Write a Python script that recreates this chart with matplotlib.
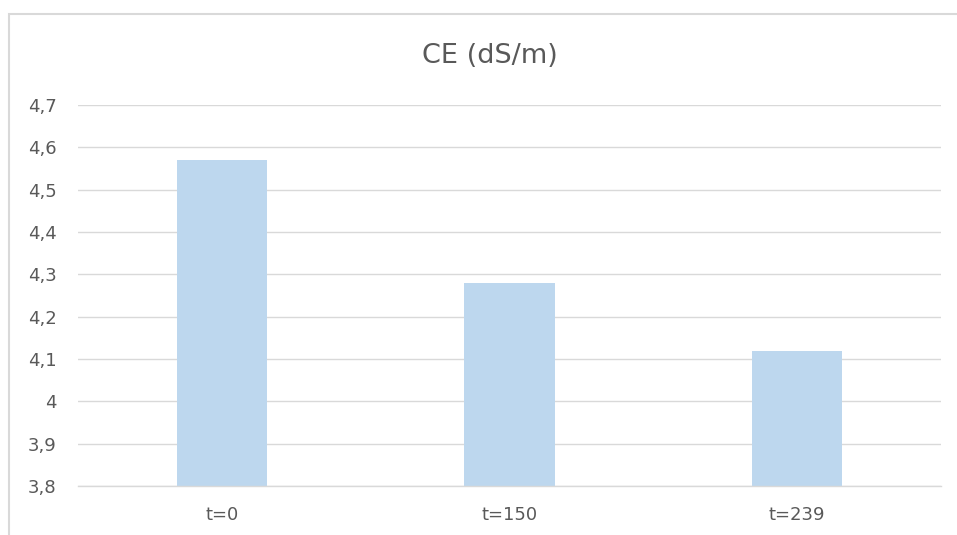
import matplotlib
matplotlib.use("Agg")
import matplotlib.pyplot as plt
from matplotlib.patches import Rectangle
from matplotlib.ticker import FuncFormatter

categories = ["t=0", "t=150", "t=239"]
values = [4.57, 4.28, 4.12]
yticks = [3.8, 3.9, 4.0, 4.1, 4.2, 4.3, 4.4, 4.5, 4.6, 4.7]

plt.rcParams['font.family'] = ['DejaVu Sans']

W, H = 957, 535
fig = plt.figure(figsize=(W/100, H/100), dpi=100)
fig.patch.set_facecolor('white')

# outer chart border (bottom and right edges fall outside the image)
fig.add_artist(Rectangle((9/W, -0.05), 1.0, 1.05 - 14/H, transform=fig.transFigure,
                         fill=False, edgecolor='#D9D9D9', linewidth=1.5))

left, right = 78/W, 941/W
top, bottom = 1 - 105/H, 1 - 486/H
ax = fig.add_axes([left, bottom, right - left, top - bottom])

x = range(len(categories))
ax.bar(x, [v - 3.8 for v in values], bottom=3.8, width=0.313, color='#BDD7EE', zorder=2)
ax.set_xlim(-0.5, len(categories) - 0.5)
ax.set_ylim(3.8, 4.7)
ax.set_yticks(yticks)
ax.yaxis.set_major_formatter(FuncFormatter(lambda v, p: ('%g' % round(v, 1)).replace('.', ',')))
ax.set_xticks(list(x))
ax.set_xticklabels(categories)
ax.grid(axis='y', color='#D9D9D9', linewidth=1, zorder=0)
for name, s in ax.spines.items():
    s.set_visible(name == 'bottom')
ax.spines['bottom'].set_color('#D9D9D9')
ax.spines['bottom'].set_linewidth(1)
ax.tick_params(axis='both', length=0, labelsize=13, colors='#595959')
ax.tick_params(axis='y', pad=15.5)
ax.tick_params(axis='x', pad=14.5)

fig.text((416 + 564) / 2 / W, 1 - 56/H, "CE (dS/m)", ha='center', va='center',
         fontsize=19.5, color='#595959')

fig.savefig("out.png", dpi=100)
